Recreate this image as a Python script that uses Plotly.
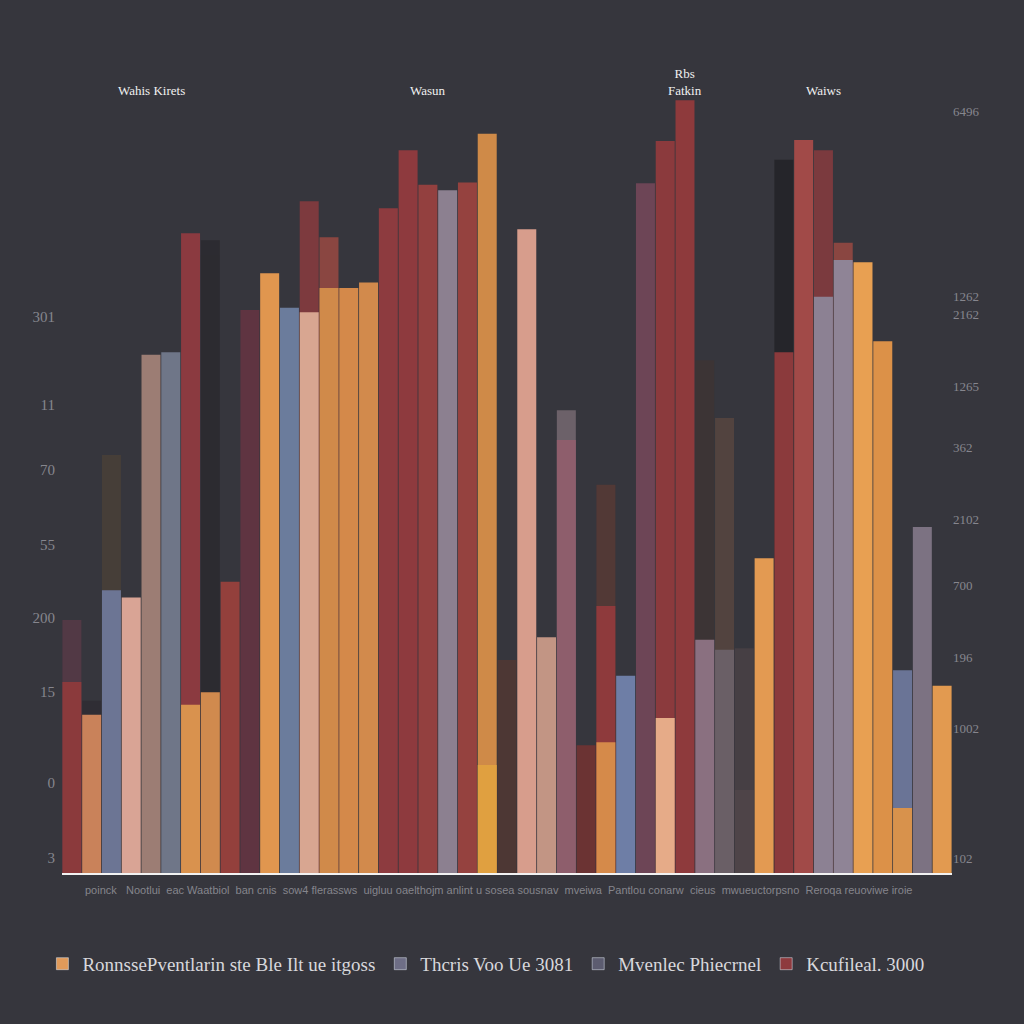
import plotly.graph_objects as go

# 45 bars, left to right
categories = [f"b{i:02d}" for i in range(45)]

front_values = [24.4, 20.2, 36.1, 35.2, 66.2, 66.5, 81.7, 23.1, 37.2, 71.9,
                76.6, 72.2, 71.6, 74.7, 74.7, 75.4, 84.9, 92.3, 87.9, 87.2,
                88.2, 94.4, 27.2, 82.2, 30.1, 55.3, 16.3, 34.1, 25.2, 88.1,
                93.5, 98.7, 29.8, 28.5, 10.6, 40.2, 66.5, 93.6, 73.6, 78.3,
                78.0, 67.9, 25.9, 44.2, 23.9]
front_colors = ["#8b3a3c", "#c9825a", "#6c7594", "#d9a495", "#9c7d74", "#6f7688",
                "#8b3a40", "#d08a4e", "#93403c", "#5f3441", "#e0964f", "#6b7c9c",
                "#d8a691", "#d08a4a", "#d4894a", "#d28a4c", "#8d3b3f", "#8e3a3e",
                "#93403f", "#8c8090", "#95423f", "#cf8a48", "#4d3734", "#d79d8c",
                "#c29584", "#8e5e6c", "#6b3333", "#8e3a3c", "#6e7ea6", "#6d4556",
                "#8b3a3d", "#8e3a3c", "#8a7080", "#6a5f66", "#4e4448", "#e39a52",
                "#8b3a3c", "#a14a48", "#8c8193", "#8f8496", "#e8a052", "#dc9148",
                "#6a7496", "#7c7282", "#e29a50"]

# faded bars standing behind the front bars
back_values = [32.3, 22.0, 53.4, None, None, None, None, 80.8, None, None,
               None, None, 85.8, 81.2, None, None, None, None, None, None,
               None, None, None, None, None, 59.1, None, 49.6, None, None,
               None, None, 65.5, 58.1, 28.7, None, 91.1, None, 92.3, 80.5,
               None, None, None, None, None]
back_colors = ["#5a3a48", "#2e2c33", "#4a4038", "#000", "#000", "#000", "#000", "#2a292e",
               "#000", "#000", "#000", "#000", "#8f3b3f", "#a04a42", "#000", "#000",
               "#000", "#000", "#000", "#000", "#000", "#000", "#000", "#000", "#000",
               "#7a6c74", "#000", "#5a3a35", "#000", "#000", "#000", "#000", "#3e3434",
               "#5a4740", "#4a4246", "#000", "#222226", "#000", "#8d3b3f", "#a04a42",
               "#000", "#000", "#000", "#000", "#000"]

# lower segments drawn on top
low_values = [None] * 45
low_values[6] = 21.5
low_values[21] = 13.8
low_values[27] = 16.7
low_values[30] = 19.8
low_values[42] = 8.3
low_colors = ["#d9924e"] * 45
low_colors[21] = "#e0a040"
low_colors[27] = "#d58a4a"
low_colors[30] = "#e6ab88"
low_colors[42] = "#d8924c"

left_tick_vals = [71.1, 59.8, 51.5, 41.9, 32.6, 23.1, 11.5, 1.9]
left_tick_text = ["301", "11", "70", "55", "200", "15", "0", "3"]
right_tick_vals = [97.3, 73.6, 71.3, 62.2, 54.3, 45.2, 36.7, 27.5, 18.4, 1.9]
right_tick_text = ["6496", "1262", "2162", "1265", "362", "2102", "700", "196", "1002", "102"]

legend_names = ["RonnssePventlarin ste Ble Ilt ue itgoss", "Thcris Voo Ue 3081",
                "Mvenlec Phiecrnel", "Kcufileal. 3000"]
legend_colors = ["#e09a5a", "#6e6e86", "#5c5c70", "#8e3a3e"]

headers = ["Wahis Kirets", "Wasun", "Rbs<br>Fatkin", "Waiws"]
header_x = ["b04", "b18", "b31", "b38"]

axis_words = ("poinck   Nootlui  eac Waatbiol  ban cnis  sow4 flerassws  uigluu oaelthojm "
              "anlint u sosea sousnav  mveiwa  Pantlou conarw  cieus  mwueuctorpsno  "
              "Reroqa reuoviwe iroie")

fig = go.Figure()

fig.add_trace(go.Bar(x=categories, y=back_values, marker=dict(color=back_colors, line_width=0),
                     opacity=0.8, showlegend=False, hoverinfo="skip"))
fig.add_trace(go.Bar(x=categories, y=front_values, marker=dict(color=front_colors, line_width=0),
                     showlegend=False))
fig.add_trace(go.Bar(x=categories, y=low_values, marker=dict(color=low_colors, line_width=0),
                     showlegend=False))

# legend entries
for name, color in zip(legend_names, legend_colors):
    fig.add_trace(go.Bar(x=[categories[0]], y=[None], name=name, marker_color=color))

# invisible trace so the right axis is drawn
fig.add_trace(go.Scatter(x=[categories[0]], y=[0], yaxis="y2", mode="markers",
                         marker=dict(opacity=0), showlegend=False, hoverinfo="skip"))

for text, xc in zip(headers, header_x):
    fig.add_annotation(x=xc, y=1.0, xref="x", yref="paper", text=text, showarrow=False,
                       yanchor="bottom", yshift=-10,
                       font=dict(family="Liberation Serif", size=13, color="#f0f0f0"))

fig.add_annotation(x=0.49, y=-0.032, xref="paper", yref="paper", text=axis_words, showarrow=False,
                   font=dict(family="Liberation Sans", size=11, color="#85858c"))

fig.update_layout(
    width=1024, height=1024,
    barmode="overlay", bargap=0.04,
    paper_bgcolor="#36363d", plot_bgcolor="#36363d",
    margin=dict(l=62, r=72, t=90, b=151),
    xaxis=dict(showticklabels=False, showgrid=False, zeroline=False, showline=True,
               linecolor="#f2f2f2", linewidth=2, ticks="", type="category",
               categoryorder="array", categoryarray=categories, range=[-0.5, 44.5]),
    yaxis=dict(range=[0, 100], showgrid=False, zeroline=False, tickvals=left_tick_vals,
               ticktext=left_tick_text, ticks="", ticklabelstandoff=6,
               tickfont=dict(family="Liberation Serif", size=15, color="#86868e")),
    yaxis2=dict(range=[0, 100], overlaying="y", side="right", showgrid=False, zeroline=False,
                tickvals=right_tick_vals, ticktext=right_tick_text, ticks="",
                tickfont=dict(family="Liberation Serif", size=13, color="#86868e")),
    legend=dict(orientation="h", x=-0.022, xanchor="left", y=-0.116, yanchor="middle",
                font=dict(family="Liberation Serif", size=19, color="#d8d8dc"),
                bgcolor="rgba(0,0,0,0)", itemwidth=30),
    showlegend=True,
)

fig.write_html("out.html", config={"displayModeBar": False},
               post_script="document.body.style.margin='0';"
                           "document.body.style.background='#36363d';")
